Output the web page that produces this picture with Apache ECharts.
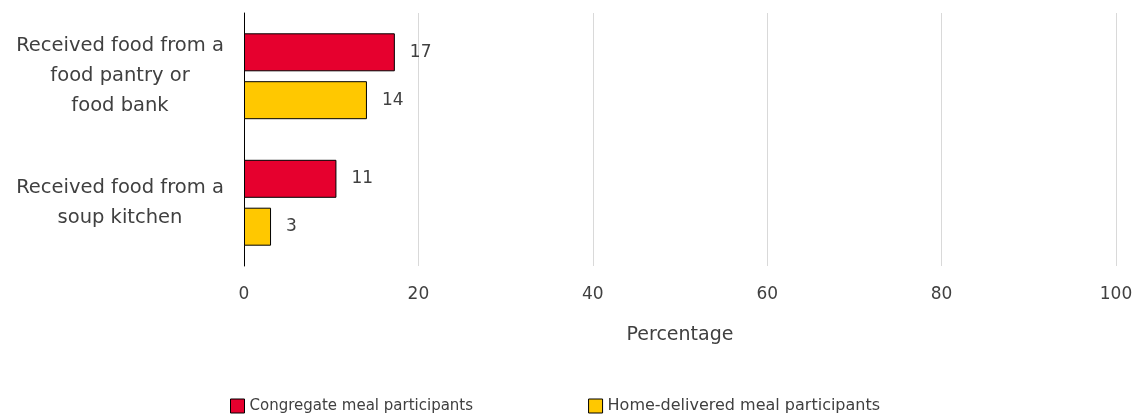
<!DOCTYPE html>
<html>
<head>
<meta charset="utf-8">
<script src="https://cdn.jsdelivr.net/npm/echarts@6/dist/echarts.min.js"></script>
<style>
html,body{margin:0;padding:0;background:#fff;}
#chart{width:1136px;height:415px;}
</style>
</head>
<body>
<div id="chart"></div>
<script>
const categories = [
  "Received food from a\nfood pantry or\nfood bank",
  "Received food from a\nsoup kitchen"
];
const seriesNames = ["Congregate meal participants", "Home-delivered meal participants"];
const congregate = [17.3, 10.6];
const homeDelivered = [14.1, 3.1];
const xTicks = [0, 20, 40, 60, 80, 100];
const xAxisTitle = "Percentage";

const chart = echarts.init(document.getElementById('chart'), null, {renderer: 'canvas'});
const txt = '#404040';
const fam = '"DejaVu Sans", sans-serif';
const labelCfg = {
  show: true, position: 'right', distance: 15,
  color: txt, fontFamily: fam, fontSize: 17,
  formatter: p => Math.round(p.value)
};
chart.setOption({
  animation: false,
  backgroundColor: '#fff',
  grid: {left: 244, right: 20, top: 13, bottom: 149, containLabel: false},
  xAxis: {
    type: 'value', min: xTicks[0], max: xTicks[xTicks.length - 1], interval: 20,
    axisLine: {show: false}, axisTick: {show: false},
    splitLine: {show: true, lineStyle: {color: '#d9d9d9', width: 1}},
    axisLabel: {color: txt, fontFamily: fam, fontSize: 17, margin: 20},
    name: xAxisTitle, nameLocation: 'middle', nameGap: 60,
    nameTextStyle: {color: txt, fontFamily: fam, fontSize: 19}
  },
  yAxis: {
    type: 'category', data: categories, inverse: true,
    axisLine: {show: true, lineStyle: {color: '#000', width: 1}},
    axisTick: {show: false},
    axisLabel: {color: txt, fontFamily: fam, fontSize: 19.5, lineHeight: 30, align: 'center', margin: 124}
  },
  legend: {
    top: 393, left: 225, itemWidth: 14, itemHeight: 14, itemGap: 115,
    icon: 'rect',
    itemStyle: {borderColor: '#000', borderWidth: 1},
    textStyle: {color: txt, fontFamily: fam, fontSize: 15},
    data: [
      {name: seriesNames[0], textStyle: {fontSize: 15}},
      {name: seriesNames[1], textStyle: {fontSize: 16}}
    ]
  },
  series: [
    {name: seriesNames[0], type: 'bar', data: congregate, barWidth: 38, barGap: '26%',
     itemStyle: {color: '#E6002E', borderColor: '#000', borderWidth: 1}, label: labelCfg},
    {name: seriesNames[1], type: 'bar', data: homeDelivered, barWidth: 38, barGap: '26%',
     itemStyle: {color: '#FFC800', borderColor: '#000', borderWidth: 1}, label: labelCfg}
  ]
});
</script>
</body>
</html>
